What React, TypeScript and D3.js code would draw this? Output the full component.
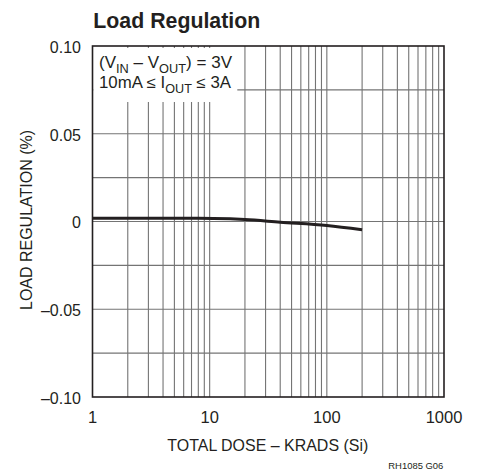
import React from "react";
import * as d3 from "d3";

const dose = [1, 8, 15, 20, 40, 100, 200];
const loadReg = [0.0019, 0.0019, 0.0015, 0.0011, -0.0004, -0.0023, -0.0047];
const xTickValues = [1, 10, 100, 1000];
const xTickLabels = ["1", "10", "100", "1000"];
const yTickValues = [0.1, 0.05, 0, -0.05, -0.1];
const yTickLabels = ["0.10", "0.05", "0", "–0.05", "–0.10"];

const W = 479;
const H = 474;
const L = 92.5;
const R = 444;
const T = 46;
const B = 397;
const FONT = "'Liberation Sans', Arial, sans-serif";
const INK = "#231f20";
const GRID = "#747474";

export default function App() {
  const x = d3.scaleLog().domain([1, 1000]).range([L, R]);
  const y = d3.scaleLinear().domain([-0.1, 0.1]).range([B, T]);
  const xGrid = x.ticks().filter((v) => v > 1 && v < 1000);
  const yGrid = d3.range(-0.075, 0.0751, 0.025);
  const line = d3
    .line<number>()
    .x((_, i) => x(dose[i]))
    .y((d) => y(d))
    .curve(d3.curveMonotoneX);

  return (
    <svg width={W} height={H} style={{ position: "absolute", left: 0, top: 0 }}>
      <rect x={0} y={0} width={W} height={H} fill="#fff" />
      <text x={93.3} y={27.5} fontFamily={FONT} fontWeight="bold" fontSize={22} fill={INK} textLength={167} lengthAdjust="spacingAndGlyphs">
        Load Regulation
      </text>
      {xGrid.map((v) => (
        <line key={"xg" + v} x1={x(v)} x2={x(v)} y1={T} y2={B} stroke={GRID} strokeWidth={1.1} />
      ))}
      {yGrid.map((v) => (
        <line key={"yg" + v} x1={L} x2={R} y1={y(v)} y2={y(v)} stroke={GRID} strokeWidth={1.1} />
      ))}
      <rect x={L + 0.8} y={T + 2} width={144} height={54} fill="#fff" />
      <text x={99} y={68} fontFamily={FONT} fontSize={16} fill={INK} textLength={133} lengthAdjust="spacingAndGlyphs">
        (V<tspan fontSize={12} dy={4.5}>IN</tspan><tspan dy={-4.5}> – V</tspan><tspan fontSize={12} dy={4.5}>OUT</tspan><tspan dy={-4.5}>) = 3V</tspan>
      </text>
      <text x={99} y={88} fontFamily={FONT} fontSize={16} fill={INK} textLength={132} lengthAdjust="spacingAndGlyphs">
        10mA ≤ I<tspan fontSize={12} dy={4.5}>OUT</tspan><tspan dy={-4.5}> ≤ 3A</tspan>
      </text>
      <rect x={L} y={T} width={R - L} height={B - T} fill="none" stroke={INK} strokeWidth={1.6} />
      <path d={line(loadReg) || ""} fill="none" stroke={INK} strokeWidth={3} />
      {yTickValues.map((v, i) => (
        <text key={"yt" + i} x={81} y={y(v) + 6.8} textAnchor="end" fontFamily={FONT} fontSize={16} fill={INK}>
          {yTickLabels[i]}
        </text>
      ))}
      {xTickValues.map((v, i) => (
        <text key={"xt" + i} x={x(v)} y={423} textAnchor="middle" fontFamily={FONT} fontSize={16.5} fill={INK}>
          {xTickLabels[i]}
        </text>
      ))}
      <text x={267.8} y={451} textAnchor="middle" fontFamily={FONT} fontSize={16.5} fill={INK} textLength={201} lengthAdjust="spacingAndGlyphs">
        TOTAL DOSE – KRADS (Si)
      </text>
      <text transform="translate(31.7,220) rotate(-90)" textAnchor="middle" fontFamily={FONT} fontSize={16.5} fill={INK} textLength={180} lengthAdjust="spacingAndGlyphs">
        LOAD REGULATION (%)
      </text>
      <text x={443.3} y={468.5} textAnchor="end" fontFamily={FONT} fontSize={9.5} fill={INK} textLength={55} lengthAdjust="spacingAndGlyphs">
        RH1085 G06
      </text>
    </svg>
  );
}
